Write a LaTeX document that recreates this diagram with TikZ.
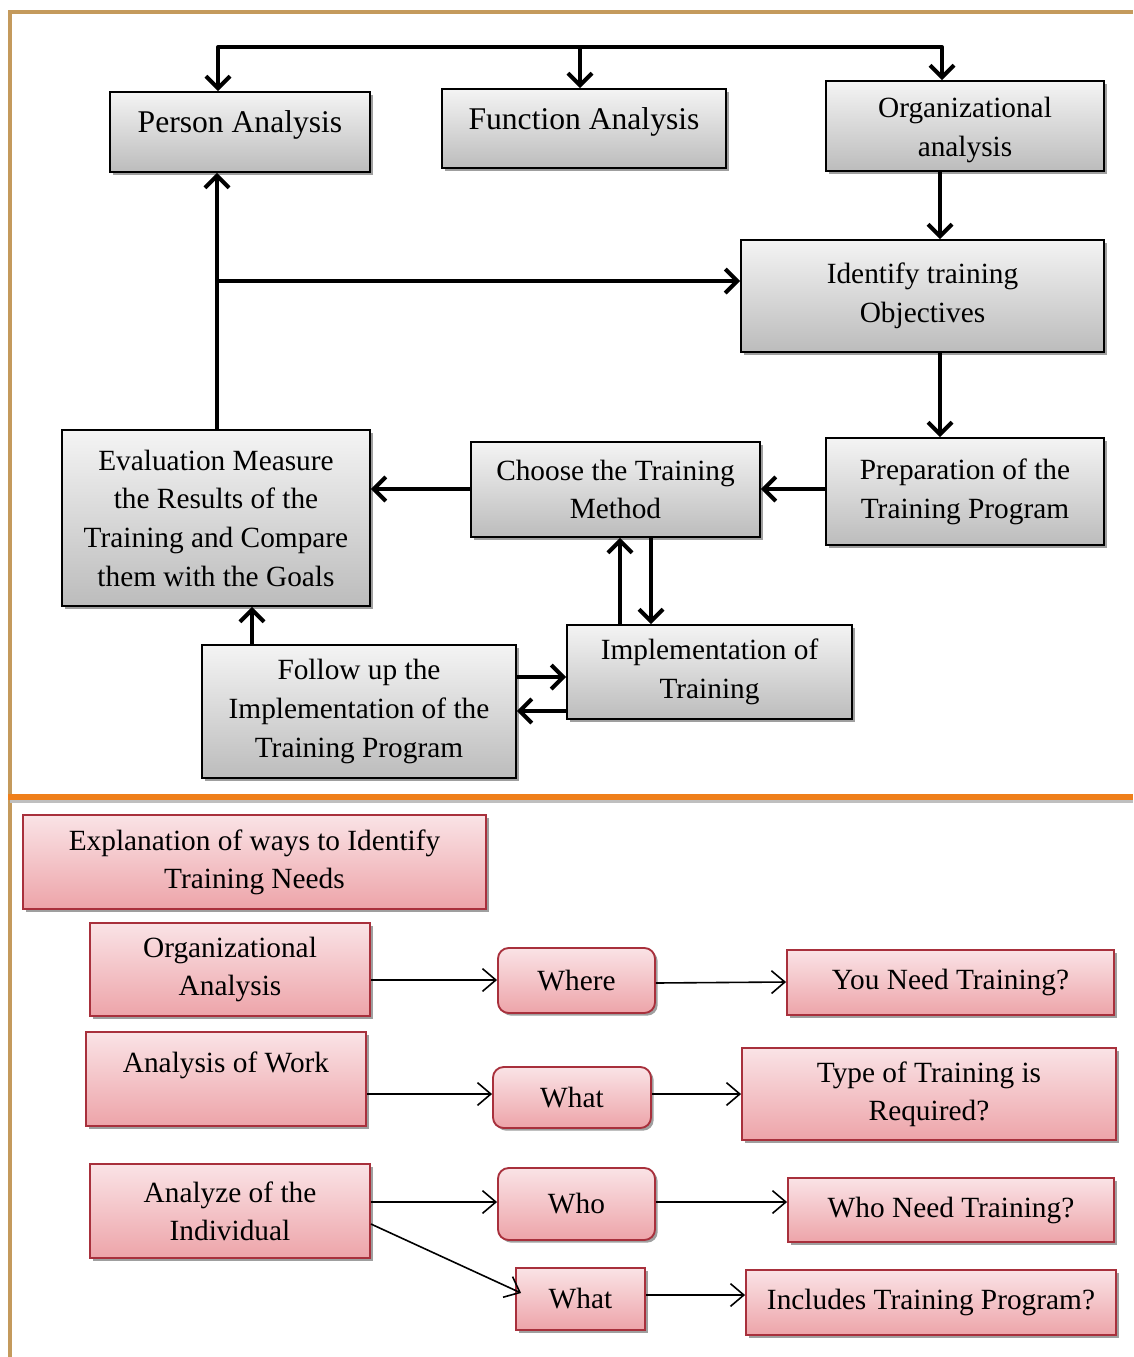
\documentclass[tikz,border=0pt]{standalone}
\usepackage{fontspec}
\setmainfont{Liberation Serif}
\usetikzlibrary{arrows.meta,shadows,calc}
\definecolor{tan}{HTML}{C49A5C}
\definecolor{orangeline}{HTML}{EF7F1A}
\definecolor{pinktop}{HTML}{FAE3E6}
\definecolor{pinkbot}{HTML}{EDA4A9}
\definecolor{pinkborder}{HTML}{A8303C}
\definecolor{graytop}{HTML}{F4F4F4}
\definecolor{graybot}{HTML}{BCBCBC}
\newcommand{\topfont}{\fontsize{22}{29}\selectfont}
\newcommand{\bigtopfont}{\fontsize{23.7}{29}\selectfont}
\newcommand{\botfont}{\fontsize{22}{28.5}\selectfont}
\tikzset{
  sz/.style 2 args={minimum width=#1*0.75pt, minimum height=#2*0.75pt},
  gbox/.style={draw=black, line width=1.4pt, top color=graytop, bottom color=graybot,
    drop shadow={shadow xshift=2pt, shadow yshift=-2pt, fill=gray!75, opacity=1},
    align=center, font=\topfont, inner sep=0pt},
  pbox/.style={draw=pinkborder, line width=1.4pt, top color=pinktop, bottom color=pinkbot,
    drop shadow={shadow xshift=2pt, shadow yshift=-2pt, fill=gray!75, opacity=1},
    align=center, font=\botfont, inner sep=0pt},
  rbox/.style={pbox, rounded corners=8pt},
  bigarr/.style={line width=3pt, line join=round, -{Straight Barb[length=9pt,width=18pt,line width=3pt]}},
  thinarr/.style={line width=1.2pt, -{Straight Barb[length=10pt,width=17pt,line width=1.2pt]}},
}
\begin{document}
\begin{tikzpicture}[x=0.75pt,y=-0.75pt]
\useasboundingbox (0,0) rectangle (1133,1357);
\fill[white] (0,0) rectangle (1133,1357);
% frame
\draw[tan, line width=3pt] (8,12) -- (1133,12);
\draw[tan, line width=3pt] (10,12) -- (10,1357);
\draw[gray!50, line width=3pt] (10,801) -- (1133,801);
\draw[orangeline, line width=4pt] (8,797) -- (1133,797);

% top boxes
\node[gbox, sz={260}{80}, label={[font=\bigtopfont, yshift=7*0.75pt]center:Person Analysis}] (pa) at (240,132) {};
\node[gbox, sz={284}{79}, label={[font=\bigtopfont, yshift=7*0.75pt]center:Function Analysis}] (fa) at (584,128.5) {};
\node[gbox, sz={278}{90}, label={[font=\topfont, align=center, yshift=-4*0.75pt]center:Organizational\\analysis}] (oa) at (965,126) {};
\node[gbox, sz={363}{112}] (it) at (922.5,296) {Identify training\\Objectives};
\node[gbox, sz={278}{107}] (pp) at (965,491.5) {Preparation of the\\Training Program};
\node[gbox, sz={289}{95}] (ch) at (615.5,489.5) {Choose the Training\\Method};
\node[gbox, sz={308}{176}] (ev) at (216,518) {Evaluation Measure\\the Results of the\\Training and Compare\\them with the Goals};
\node[gbox, sz={285}{94}] (im) at (709.5,672) {Implementation of\\Training};
\node[gbox, sz={314}{133}] (fu) at (359,711.5) {Follow up the\\Implementation of the\\Training Program};

% top connectors
\coordinate (tl) at (218,47);
\coordinate (tm) at (580,47);
\coordinate (tr) at (942,47);
\draw[bigarr] (tr) -- (tl) -- (tl |- pa.north);
\draw[bigarr] (tm) -- (tm |- fa.north);
\draw[bigarr] (tl) -- (tr) -- (tr |- oa.north);

\coordinate (lx) at (217,281);
\draw[bigarr] (lx |- ev.north) -- (lx |- pa.south);
\draw[bigarr] (lx) -- (lx -| it.west);

\coordinate (rx) at (940,0);
\draw[bigarr] (rx |- oa.south) -- (rx |- it.north);
\draw[bigarr] (rx |- it.south) -- (rx |- pp.north);

\coordinate (cy) at (0,489);
\draw[bigarr] (cy -| pp.west) -- (cy -| ch.east);
\draw[bigarr] (cy -| ch.west) -- (cy -| ev.east);

\coordinate (ux) at (620,0);
\coordinate (dx) at (651,0);
\draw[bigarr] (ux |- im.north) -- (ux |- ch.south);
\draw[bigarr] (dx |- ch.south) -- (dx |- im.north);

\coordinate (fy1) at (0,677);
\coordinate (fy2) at (0,711);
\draw[bigarr] (fy1 -| fu.east) -- (fy1 -| im.west);
\draw[bigarr] (fy2 -| im.west) -- (fy2 -| fu.east);

\coordinate (fx) at (252,0);
\draw[bigarr] (fx |- fu.north) -- (fx |- ev.south);

% bottom boxes
\node[pbox, sz={463}{94}] (ex) at (254.5,862) {Explanation of ways to Identify\\Training Needs};
\node[pbox, sz={280}{93}] (oan) at (230,969.5) {Organizational\\Analysis};
\node[rbox, sz={157}{65}] (where) at (576.5,980.5) {Where};
\node[pbox, sz={327}{65}] (ynt) at (950.5,982.5) {You Need Training?};
\node[pbox, sz={280}{94}, label={[font=\botfont, yshift=14*0.75pt]center:Analysis of Work}] (aw) at (226,1079) {};
\node[rbox, sz={158}{61}] (what1) at (572,1097.5) {What};
\node[pbox, sz={374}{92}] (tot) at (929,1094) {Type of Training is\\Required?};
\node[pbox, sz={280}{94}] (ai) at (230,1211) {Analyze of the\\Individual};
\node[rbox, sz={157}{72}] (who) at (576.5,1204) {Who};
\node[pbox, sz={326}{64}] (wnt) at (951,1210) {Who Need Training?};
\node[pbox, sz={129}{62}] (what2) at (580.5,1299) {What};
\node[pbox, sz={370}{65}] (itp) at (931,1302.5) {Includes Training Program?};

% bottom connectors
\draw[thinarr] (oan.east |- 0,980) -- (where.west |- 0,980);
\draw[thinarr] (where.east |- 0,983) -- (ynt.west |- 0,982);
\draw[thinarr] (aw.east |- 0,1094) -- (what1.west |- 0,1094);
\draw[thinarr] (what1.east |- 0,1094) -- (tot.west |- 0,1094);
\draw[thinarr] (ai.east |- 0,1202) -- (who.west |- 0,1202);
\draw[thinarr] (who.east |- 0,1202) -- (wnt.west |- 0,1202);
\draw[thinarr] (ai.east |- 0,1224) -- ([xshift=6*0.75pt]what2.west |- 0,1293);
\draw[thinarr] (what2.east |- 0,1295) -- (itp.west |- 0,1295);
\end{tikzpicture}
\end{document}
